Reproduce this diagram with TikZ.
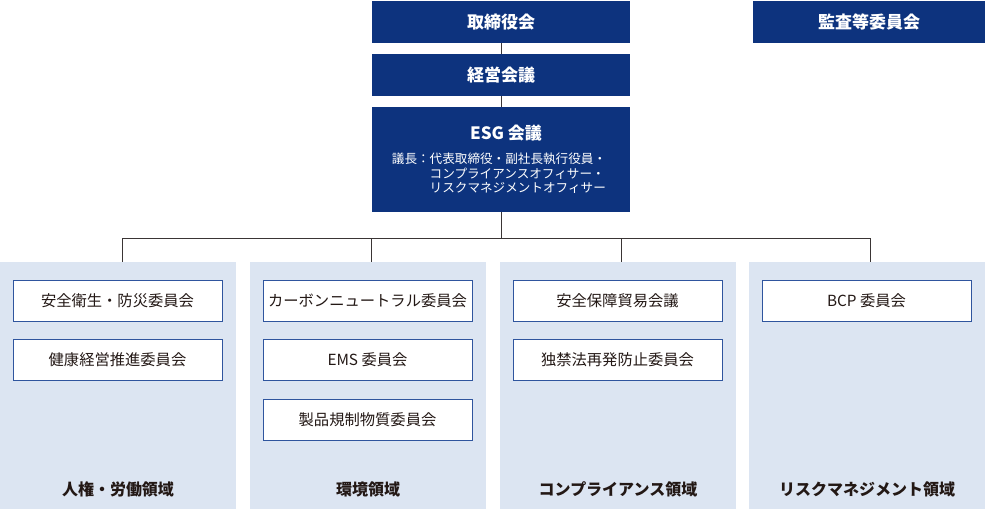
\documentclass[tikz,border=0pt]{standalone}
\usepackage{fontspec}
\setmainfont{Noto Sans CJK JP}
\usetikzlibrary{positioning,fit}
\definecolor{navy}{HTML}{0D337E}
\definecolor{paneblue}{HTML}{DCE5F2}
\definecolor{boxline}{HTML}{2F559E}
\definecolor{linkgray}{HTML}{3A3535}
\definecolor{inktext}{HTML}{231815}

\begin{document}
\begin{tikzpicture}[x=1pt, y=-1pt,
    topbox/.style={fill=navy, text=white, font=\bfseries\fontsize{17}{20}\selectfont, minimum width=258pt, minimum height=42pt, inner sep=0pt},
    panebox/.style={fill=paneblue, minimum width=236pt, minimum height=247pt, inner sep=0pt},
    itembox/.style={draw=boxline, fill=white, line width=0.9pt, minimum width=209pt, minimum height=41pt, inner sep=0pt, text=inktext, font=\fontsize{15.3}{18}\selectfont},
    panelabel/.style={text=inktext, font=\bfseries\fontsize{16}{19}\selectfont},
    link/.style={draw=linkgray, line width=0.9pt}]
        \useasboundingbox (0,0) rectangle (986,509);
        \node[topbox] (board) at (501,22) {取締役会};
        \node[topbox, minimum width=232pt] (audit) at (869,22) {監査等委員会};
        \node[topbox] (mgmt) at (501,75) {経営会議};
        \node[topbox, minimum height=105pt] (esg) at (501,159.5) {};
        \node[text=white, font=\bfseries\fontsize{17}{20}\selectfont] (esg-t) at (506,133) {ESG 会議};
        \node[text=white, font=\fontsize{12.6}{14.5}\selectfont, inner sep=0pt] (esg-s) at (499,175)
            {\begin{tabular}{@{}l@{}l@{}}議長：&代表取締役・副社長執行役員・\\ &コンプライアンスオフィサー・\\ &リスクマネジメントオフィサー\end{tabular}};
        \foreach[count=\i] \px/\bx/\lbl/\items in {118/122/{人権・労働領域}/{安全衛生・防災委員会,健康経営推進委員会},
                368/371/{環境領域}/{カーボンニュートラル委員会,EMS 委員会,製品規制物質委員会},
                618/621/{コンプライアンス領域}/{安全保障貿易会議,独禁法再発防止委員会},
                867/870/{リスクマネジメント領域}/{BCP 委員会}} {
            \node[panebox] (pane-\i) at (\px,385.5) {};
            \coordinate (bus-\i) at (\bx,238);
            \foreach[count=\j] \it in \items {
                \node[itembox] (item-\j-\i) at (\px-0.5,300.5+59.5*\j-59.5) {\it};
            }
            \node[panelabel] (lbl-\i) at (\px,489) {\lbl};
            \draw[link] (bus-\i) -- (bus-\i |- pane-\i.north);
        }
        \draw[link] (board) -- (mgmt);
        \draw[link] (mgmt) -- (esg);
        \draw[link] (esg.south) -- (esg.south |- bus-1);
        \draw[link] (bus-1) -- (bus-4);
    \end{tikzpicture}
\end{document}
